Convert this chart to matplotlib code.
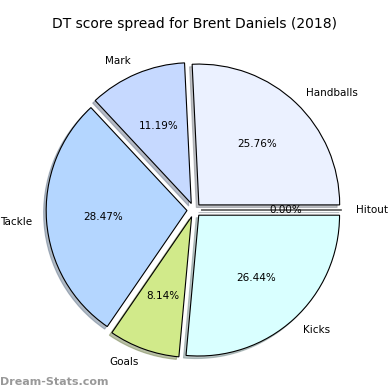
import matplotlib
matplotlib.use("Agg")
from matplotlib import pyplot as plt

labels = ["Handballs", "Hitout", "Kicks", "Goals", "Tackle", "Mark"]
values = [25.76, 0.00, 26.44, 8.14, 28.47, 11.19]
colors = ["#ebf1ff", "#e0f0ff", "#d9ffff", "#d1ea8a", "#b4d6ff", "#c6d9ff"]
explode = [0.05] * len(values)

fig = plt.figure(figsize=(3.9, 3.9), dpi=100)
ax = fig.add_axes([18 / 390, 4 / 390, 352 / 390, 352 / 390])

# Hitout (0%) lands on the horizontal axis
start = values[0] / sum(values) * 360
wedges, texts, autotexts = ax.pie(values, labels=labels, colors=colors, explode=explode,
                                  autopct="%1.2f%%", startangle=start, counterclock=False,
                                  shadow={"ox": -0.013, "oy": -0.013, "shade": 0.45},
                                  wedgeprops={"edgecolor": "black", "linewidth": 0.8},
                                  textprops={"fontsize": 7.5})
ax.set_aspect("equal")
ax.set_title("DT score spread for Brent Daniels (2018)", fontsize=10, pad=4)

# watermark
fig.text(0.0, 0.008, "Dream-Stats.com", fontsize=8, color="#999999",
         fontweight="bold", ha="left", va="bottom")

fig.savefig("out.png", dpi=100)
